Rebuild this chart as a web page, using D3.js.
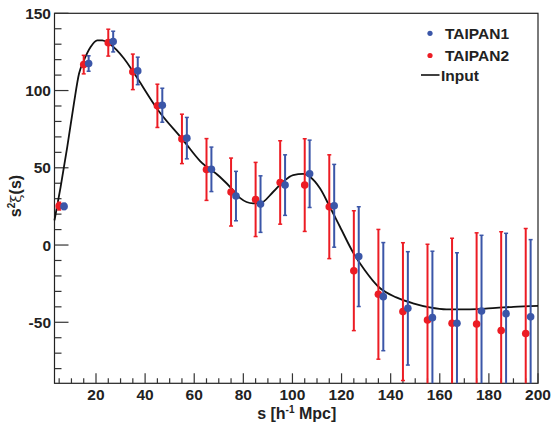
<!DOCTYPE html>
<html>
<head>
<meta charset="utf-8">
<script src="https://cdn.jsdelivr.net/npm/d3@7/dist/d3.min.js"></script>
<style>
  html, body { margin: 0; padding: 0; background: #fff; }
  svg { display: block; font-family: "Liberation Sans", Arial, Helvetica, sans-serif; }
</style>
</head>
<body>
<svg id="chart" width="553" height="424"></svg>
<script>
// ---- data ----
const binCenters = [5, 15, 25, 35, 45, 55, 65, 75, 85, 95, 105, 115, 125, 135, 145, 155, 165, 175, 185, 195];
const taipan1Offset = 2;
const taipan1Values = [25, 117.5, 131.7, 112.7, 90.5, 69.2, 49, 31.7, 26.5, 38.8, 46.1, 25.4, -7.5, -33.4, -41, -47, -50.6, -42.7, -44.4, -46.5];
const taipan1Errors = [2, 5, 6.7, 8.9, 11, 13.4, 14.4, 16, 18.3, 19.6, 21.8, 26.8, 32.3, 35, 36.7, 43, 45.6, 49, 52, 50];
const taipan2Values = [25.2, 116.8, 131.0, 112.1, 90.1, 68.7, 48.9, 34.3, 29.5, 40.5, 38.8, 24.8, -16.6, -31.9, -43.1, -48.5, -50.6, -51.1, -55.4, -57.3];
const taipan2Errors = [2.5, 6, 8.7, 11.5, 14, 16, 20, 22, 24, 27, 30, 33.6, 38.8, 42, 44.6, 49, 55, 59, 64, 68];
const inputS = [3.1, 5.6, 8.3, 11, 13.1, 15.1, 17.8, 20.5, 22.6, 25.3, 31.4, 35.2, 45.3, 55.5, 62.3, 70.4, 75.8, 78.6, 84, 86.7, 92.2, 96.2, 100.3, 104.4, 107.1, 111.2, 115.2, 119.3, 124.9, 129.4, 135, 142.3, 149.1, 155.9, 162.7, 172.2, 182.9, 190, 200];
const inputV = [16, 37.7, 63.6, 91.6, 111, 119.6, 128.2, 132.5, 132.5, 130.4, 120.7, 112, 87.3, 67.9, 54.5, 44.2, 35.6, 30.5, 27, 27, 34.5, 41, 45.3, 46, 44.2, 36.7, 24.8, 12, -5.4, -16.2, -27, -33.9, -37.7, -40.3, -41.6, -41.6, -40.7, -40, -39.4];
const xTickValues = [20, 40, 60, 80, 100, 120, 140, 160, 180, 200];
const yTickValues = [-50, 0, 50, 100, 150];
const legendLabels = ["TAIPAN1", "TAIPAN2", "Input"];

// ---- styles ----
const blue = "#3b56a8";
const red = "#ec1c24";
const L = 54.5, R = 538, T = 13.3, B = 383.3;

const svg = d3.select("#chart");
const x = d3.scaleLinear().domain([3.1, 200]).range([L, R]);
const y = d3.scaleLinear().domain([-89.5, 150]).range([B, T]);

// frame
svg.append("rect").attr("x", L).attr("y", T).attr("width", R - L).attr("height", B - T)
  .attr("fill", "none").attr("stroke", "#222").attr("stroke-width", 1.2);

// y ticks (inside)
const yMinor = d3.range(-80, 151, 10);
svg.append("g").selectAll("line").data(yMinor).join("line")
  .attr("x1", L).attr("x2", d => L + (d % 50 === 0 ? 14 : 7))
  .attr("y1", d => y(d)).attr("y2", d => y(d))
  .attr("stroke", "#333").attr("stroke-width", 1.2);
svg.append("g").selectAll("text").data(yTickValues).join("text")
  .attr("x", 51).attr("y", d => y(d)).attr("dy", "0.36em")
  .attr("text-anchor", "end").attr("font-size", 15.5).attr("font-weight", "bold").attr("fill", "#222")
  .text(d => d);

// x ticks (inside)
const xMinor = d3.range(5, 201, 5);
svg.append("g").selectAll("line").data(xMinor).join("line")
  .attr("x1", d => x(d)).attr("x2", d => x(d))
  .attr("y1", B).attr("y2", d => B - (d % 20 === 0 ? 10 : 5))
  .attr("stroke", "#333").attr("stroke-width", 1.2);
svg.append("g").selectAll("text").data(xTickValues).join("text")
  .attr("x", d => x(d)).attr("y", 400)
  .attr("text-anchor", "middle").attr("font-size", 15.5).attr("font-weight", "bold").attr("fill", "#222")
  .text(d => d);

// axis titles
const xt = svg.append("text").attr("x", 296.7).attr("y", 419).attr("text-anchor", "middle")
  .attr("font-size", 16).attr("font-weight", "bold").attr("fill", "#222");
xt.append("tspan").text("s [h");
xt.append("tspan").attr("dy", -6).attr("font-size", 10).text("-1");
xt.append("tspan").attr("dy", 6).text(" Mpc]");

const yt = svg.append("text").attr("transform", "translate(21,196) rotate(-90)").attr("text-anchor", "middle")
  .attr("font-size", 16).attr("font-weight", "bold").attr("fill", "#222");
yt.append("tspan").text("s");
yt.append("tspan").attr("dy", -6).attr("font-size", 10).text("2");
yt.append("tspan").attr("dy", 6).attr("font-weight", "normal").attr("font-family", "DejaVu Serif").attr("font-size", 15).text("ξ");
yt.append("tspan").text("(s)");

// input curve
const curveData = inputS.map((s, i) => [s, inputV[i]]);
svg.append("path").datum(curveData)
  .attr("d", d3.line().x(d => x(d[0])).y(d => y(d[1])).curve(d3.curveMonotoneX))
  .attr("fill", "none").attr("stroke", "#111").attr("stroke-width", 1.8);

// data series
function drawSeries(values, errors, offset, color) {
  const g = svg.append("g");
  const pts = binCenters.map((c, i) => ({ s: c + offset, v: values[i], e: errors[i] }));
  g.selectAll("line.bar").data(pts).join("line").attr("class", "bar")
    .attr("x1", d => x(d.s)).attr("x2", d => x(d.s))
    .attr("y1", d => Math.min(y(d.v - d.e), B)).attr("y2", d => y(d.v + d.e))
    .attr("stroke", color).attr("stroke-width", 2);
  g.selectAll("line.capT").data(pts).join("line").attr("class", "capT")
    .attr("x1", d => x(d.s) - 2).attr("x2", d => x(d.s) + 2)
    .attr("y1", d => y(d.v + d.e)).attr("y2", d => y(d.v + d.e))
    .attr("stroke", color).attr("stroke-width", 1.5);
  g.selectAll("line.capB").data(pts.filter(d => y(d.v - d.e) < B)).join("line").attr("class", "capB")
    .attr("x1", d => x(d.s) - 2).attr("x2", d => x(d.s) + 2)
    .attr("y1", d => y(d.v - d.e)).attr("y2", d => y(d.v - d.e))
    .attr("stroke", color).attr("stroke-width", 1.5);
  g.selectAll("circle").data(pts).join("circle")
    .attr("cx", d => x(d.s)).attr("cy", d => y(d.v)).attr("r", 3.8).attr("fill", color);
}
drawSeries(taipan2Values, taipan2Errors, 0, red);
drawSeries(taipan1Values, taipan1Errors, taipan1Offset, blue);

// legend
const lg = svg.append("g");
const rowsY = [33.3, 55.5, 75];
lg.append("circle").attr("cx", 430).attr("cy", rowsY[0]).attr("r", 2.6).attr("fill", blue);
lg.append("circle").attr("cx", 430).attr("cy", rowsY[1]).attr("r", 2.6).attr("fill", red);
lg.append("line").attr("x1", 421).attr("x2", 439.5).attr("y1", rowsY[2]).attr("y2", rowsY[2])
  .attr("stroke", "#111").attr("stroke-width", 1.6);
lg.selectAll("text").data(legendLabels).join("text")
  .attr("x", (d, i) => i === 2 ? 441 : 445).attr("y", (d, i) => rowsY[i]).attr("dy", "0.36em")
  .attr("font-size", 15.5).attr("font-weight", "bold").attr("fill", "#222")
  .text(d => d);
</script>
</body>
</html>
